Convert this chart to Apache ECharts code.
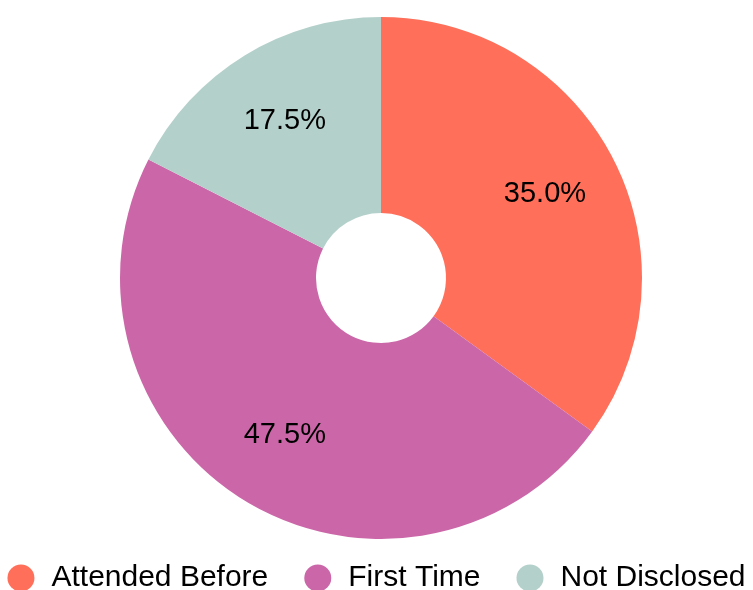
<!DOCTYPE html>
<html>
<head>
<meta charset="utf-8">
<script src="https://cdn.jsdelivr.net/npm/echarts@6/dist/echarts.min.js"></script>
<style>html,body{margin:0;padding:0;background:#fff;}#c{width:753px;height:590px;}</style>
</head>
<body>
<div id="c"></div>
<script>
const categories = ['Attended Before', 'First Time', 'Not Disclosed'];
const values = [35.0, 47.5, 17.5];
const colors = ['#FF6F59', '#CB67A8', '#B4D0CA'];

const data = categories.map((n, i) => ({ name: n, value: values[i], itemStyle: { color: colors[i] } }));
const FONT = '"Liberation Sans", Arial, Helvetica, sans-serif';

const chart = echarts.init(document.getElementById('c'), null, { renderer: 'canvas' });
chart.setOption({
  animation: false,
  backgroundColor: '#ffffff',
  legend: {
    data: categories,
    top: 558,
    left: 'center',
    icon: 'circle',
    itemWidth: 27,
    itemHeight: 27,
    itemGap: 36,
    textStyle: { fontFamily: FONT, fontSize: 30, color: '#000', padding: [0, 0, 0, 12] }
  },
  series: [
    {
      type: 'pie',
      center: [381, 278],
      radius: [65, 261],
      startAngle: 90,
      clockwise: true,
      label: { show: false },
      labelLine: { show: false },
      emphasis: { disabled: true },
      data: data
    },
    {
      type: 'pie',
      center: [381, 278],
      radius: [101, 261],
      startAngle: 90,
      clockwise: true,
      silent: true,
      itemStyle: { color: 'rgba(0,0,0,0)' },
      label: {
        show: true,
        position: 'inside',
        formatter: p => p.value.toFixed(1) + '%',
        fontFamily: FONT,
        fontSize: 29,
        color: '#000'
      },
      labelLine: { show: false },
      emphasis: { disabled: true },
      data: categories.map((n, i) => ({ name: n, value: values[i], itemStyle: { color: 'rgba(0,0,0,0)' } }))
    }
  ]
});
</script>
</body>
</html>
